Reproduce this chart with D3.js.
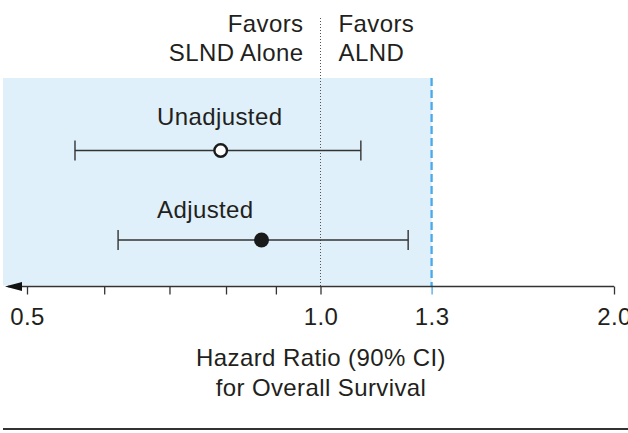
<!DOCTYPE html>
<html>
<head>
<meta charset="utf-8">
<script src="https://cdn.jsdelivr.net/npm/d3@7"></script>
<style>
  html, body { margin: 0; padding: 0; background: #fff; }
  svg { display: block; }
  text { font-family: "Liberation Sans", Arial, Helvetica, sans-serif; fill: #231f20; letter-spacing: 0.4px; }
</style>
</head>
<body>
<svg id="chart" width="628" height="433"></svg>
<script>
// Hazard ratios with 90% confidence intervals
const models = ["Unadjusted", "Adjusted"];
const hazardRatio = [0.79, 0.87];
const ciLower = [0.56, 0.62];
const ciUpper = [1.10, 1.23];
const filled = [false, true];

// Axis ticks (log scale) and which of them carry labels
const tickValues = [0.5, 0.6, 0.7, 0.8, 0.9, 1.0, 1.3, 2.0];
const tickLabels = { 0.5: "0.5", 1.0: "1.0", 1.3: "1.3", 2.0: "2.0" };
const margin = 1.3; // non-inferiority margin

const svg = d3.select("#chart");
const W = 628, H = 433;
const FS = 24;
const blue = "#4aa9e9";
const ink = "#231f20";

const x = d3.scaleLog().domain([0.5, 2.0]).range([27, 614]);
const y = d3.scalePoint().domain(models).range([150.5, 240]);
const labelOffset = { Unadjusted: -25.5, Adjusted: -22 };

const axisY = 286.5;
const boxTop = 78;

// shaded region up to the margin
svg.append("rect")
  .attr("x", 3).attr("y", boxTop)
  .attr("width", x(margin) - 3).attr("height", axisY - boxTop - 1)
  .attr("fill", "#dff0fa");

// line of no effect
svg.append("line")
  .attr("x1", x(1)).attr("x2", x(1))
  .attr("y1", 18).attr("y2", axisY)
  .attr("stroke", "#555").attr("stroke-width", 1)
  .attr("stroke-dasharray", "1,2");

// margin line
svg.append("line")
  .attr("x1", x(margin)).attr("x2", x(margin))
  .attr("y1", boxTop).attr("y2", axisY)
  .attr("stroke", blue).attr("stroke-width", 2.3)
  .attr("stroke-dasharray", "8,4");

// header labels
const header = svg.append("g").attr("font-size", FS);
header.append("text").attr("x", x(1) - 17).attr("y", 32).attr("text-anchor", "end").text("Favors");
header.append("text").attr("x", x(1) - 17).attr("y", 61).attr("text-anchor", "end").text("SLND Alone");
header.append("text").attr("x", x(1) + 18).attr("y", 32).text("Favors");
header.append("text").attr("x", x(1) + 18).attr("y", 61).text("ALND");

// x axis
const axis = d3.axisBottom(x)
  .tickValues(tickValues)
  .tickSize(8)
  .tickPadding(14)
  .tickFormat(d => tickLabels[d] || "");
const gAxis = svg.append("g").attr("transform", `translate(0,${axisY})`).call(axis);
gAxis.select(".domain").remove();
gAxis.selectAll(".tick line").attr("stroke", "#333").attr("stroke-width", 1.3);
gAxis.selectAll(".tick text")
  .attr("font-size", FS)
  .attr("fill", d => d === margin ? blue : ink)
  .attr("dy", "0.68em");
gAxis.selectAll(".tick").filter(d => d === margin).select("line").attr("stroke", blue);
gAxis.append("line")
  .attr("x1", 8).attr("x2", x(2.0))
  .attr("stroke", "#333").attr("stroke-width", 1.3);
gAxis.append("path")
  .attr("d", "M5,0 L22,-4.5 L22,4.5 Z")
  .attr("fill", "#111");

// axis title
const title = svg.append("g").attr("font-size", FS).attr("text-anchor", "middle");
title.append("text").attr("x", 321).attr("y", 366).text("Hazard Ratio (90% CI)");
title.append("text").attr("x", 321).attr("y", 396).text("for Overall Survival");

// bottom rule
svg.append("line")
  .attr("x1", 3).attr("x2", W)
  .attr("y1", 429).attr("y2", 429)
  .attr("stroke", "#333").attr("stroke-width", 2);

// estimates with confidence intervals
const rows = svg.append("g").selectAll("g")
  .data(models.map((m, i) => ({ m, hr: hazardRatio[i], lo: ciLower[i], hi: ciUpper[i], filled: filled[i] })))
  .join("g")
  .attr("transform", d => `translate(0,${y(d.m)})`);

rows.append("line")
  .attr("x1", d => x(d.lo)).attr("x2", d => x(d.hi))
  .attr("stroke", "#333").attr("stroke-width", 1.4);
rows.append("line")
  .attr("x1", d => x(d.lo)).attr("x2", d => x(d.lo))
  .attr("y1", -10).attr("y2", 10)
  .attr("stroke", "#333").attr("stroke-width", 1.4);
rows.append("line")
  .attr("x1", d => x(d.hi)).attr("x2", d => x(d.hi))
  .attr("y1", -10).attr("y2", 10)
  .attr("stroke", "#333").attr("stroke-width", 1.4);
rows.append("circle")
  .attr("cx", d => x(d.hr))
  .attr("r", d => d.filled ? 7.5 : 6.3)
  .attr("fill", d => d.filled ? "#1a1a1a" : "#fff")
  .attr("stroke", "#1a1a1a")
  .attr("stroke-width", d => d.filled ? 0 : 2.4);
rows.append("text")
  .attr("x", 157).attr("y", d => labelOffset[d.m])
  .attr("font-size", FS)
  .text(d => d.m);
</script>
</body>
</html>
